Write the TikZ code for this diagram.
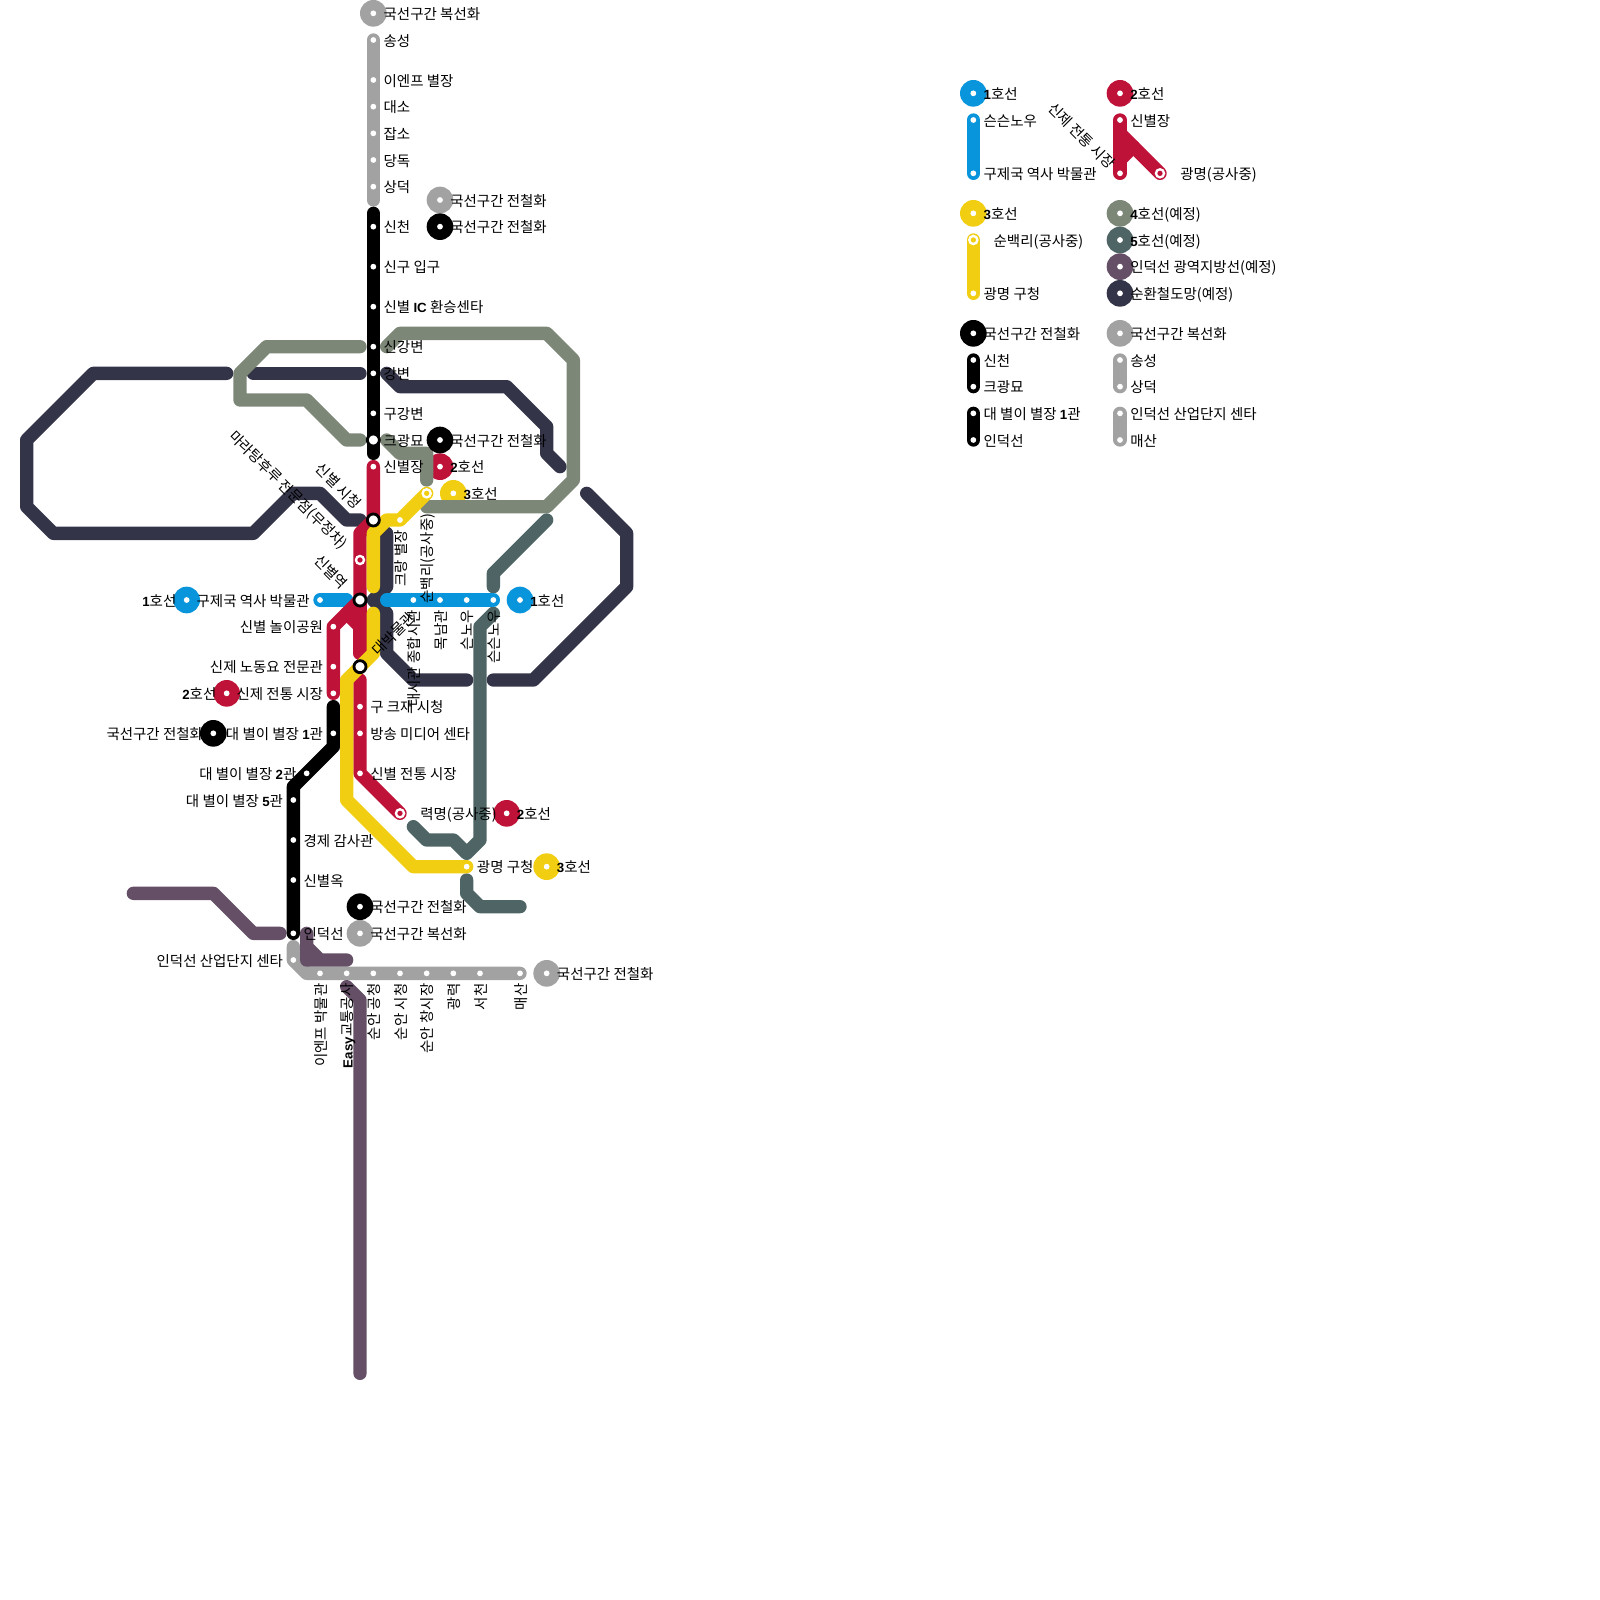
\documentclass[tikz,border=0pt]{standalone}
\usepackage{fontspec}
\usepackage{xcolor}
\setmainfont{Noto Sans CJK KR}
\newfontfamily\numfont[Scale=0.92]{Liberation Sans}
\newcommand{\bnum}[1]{{\numfont\bfseries #1}}
\definecolor{metroblue}{HTML}{0995DB}
\definecolor{metrored}{HTML}{BE1238}
\definecolor{metroyellow}{HTML}{F1CE12}
\definecolor{metrosage}{HTML}{7D8778}
\definecolor{metroteal}{HTML}{4F6565}
\definecolor{metropurple}{HTML}{644F66}
\definecolor{metrodark}{HTML}{343449}
\definecolor{metrogray}{HTML}{A2A2A2}
\pgfdeclarelayer{bubbles}
\pgfdeclarelayer{lines}
\pgfsetlayers{bubbles,lines,main}

\begin{document}
\begin{tikzpicture}[
  x=0.3cm,
  y=-0.3cm,
  metro/.style={line width=8.536pt, line cap=round, line join=round, draw=#1},
  stop/.style={circle, fill=white, inner sep=0pt, minimum size=3.7pt},
  xfer/.style={circle, draw=black, line width=1.8pt, fill=white, inner sep=0pt, minimum size=7.7pt},
  works/.style={circle, fill=white, inner sep=0pt, minimum size=6.8pt,
    path picture={\fill[#1] (path picture bounding box.center) circle (1.7pt);}},
  bubble/.style={circle, fill=#1, inner sep=0pt, minimum size=17.07pt,
    path picture={\fill[white] (path picture bounding box.center) circle (1.85pt);}},
  lbl/.style={font=\fontsize{9.27}{11}\selectfont, inner sep=0pt, text height=8.9pt, text depth=1.2pt},
  toright/.style={lbl, anchor=west, xshift=6.4pt},
  farright/.style={lbl, anchor=west, xshift=12.8pt},
  toleft/.style={lbl, anchor=east, xshift=-6.4pt},
  upright/.style={lbl, rotate=90, anchor=east, xshift=-6.4pt},
  farupright/.style={lbl, rotate=90, anchor=east, xshift=-12.8pt},
  slantdown/.style={lbl, rotate=-45, anchor=east, xshift=-#1},
  slantup/.style={lbl, rotate=45, anchor=west, xshift=12.8pt}
]
  \useasboundingbox (0,0) rectangle (120,120);

  \node[stop] (songseong) at (28,3) {}; \node[toright] (songseongT) at (songseong) {송성};
  \node[stop] (enpbyeol) at (28,6) {}; \node[toright] (enpbyeolT) at (enpbyeol) {이엔프 별장};
  \node[stop] (daeso) at (28,8) {}; \node[toright] (daesoT) at (daeso) {대소};
  \node[stop] (japso) at (28,10) {}; \node[toright] (japsoT) at (japso) {잡소};
  \node[stop] (dangdok) at (28,12) {}; \node[toright] (dangdokT) at (dangdok) {당독};
  \node[stop] (sangdeok) at (28,14) {}; \node[toright] (sangdeokT) at (sangdeok) {상덕};
  \node[stop] (sincheon) at (28,17) {}; \node[toright] (sincheonT) at (sincheon) {신천};
  \node[stop] (singu) at (28,20) {}; \node[toright] (singuT) at (singu) {신구 입구};
  \node[stop] (sinbyeolic) at (28,23) {}; \node[toright] (sinbyeolicT) at (sinbyeolic) {신별 \bnum{IC} 환승센타};
  \node[stop] (singang) at (28,26) {}; \node[toright] (singangT) at (singang) {신강변};
  \node[stop] (gangbyeon) at (28,28) {}; \node[toright] (gangbyeonT) at (gangbyeon) {강변};
  \node[stop] (gugang) at (28,31) {}; \node[toright] (gugangT) at (gugang) {구강변};
  \node[xfer] (keugwang) at (28,33) {}; \node[toright] (keugwangT) at (keugwang) {크광묘};
  \node[stop] (sinbyeoljang) at (28,35) {}; \node[toright] (sinbyeoljangT) at (sinbyeoljang) {신별장};

  \node[xfer] (cityhall) at (28,39) {}; \node[slantdown=12.8pt] (cityhallT) at (cityhall) {신별 시청};
  \node[stop] (keurang) at (30,39) {}; \node[upright] (keurangT) at (keurang) {크랑 별장};
  \node[works=metroyellow] (sunbaek) at (32,37) {}; \node[farupright] (sunbaekT) at (sunbaek) {순백리(공사중)};
  \node[works=metrored] (malatang) at (27,42) {}; \node[slantdown=12.8pt] (malatangT) at (malatang) {마라탕후루 전문점(무정차)};
  \node[xfer] (sinbyeolyeok) at (27,45) {}; \node[slantdown=12.8pt] (sinbyeolyeokT) at (sinbyeolyeok) {신별역};
  \node[stop] (gujeguk) at (24,45) {}; \node[toleft] (gujegukT) at (gujeguk) {구제국 역사 박물관};
  \node[stop] (sigwan) at (31,45) {}; \node[upright] (sigwanT) at (sigwan) {대시관 종합시관};
  \node[stop] (moknam) at (33,45) {}; \node[upright] (moknamT) at (moknam) {목남관};
  \node[stop] (seunnou) at (35,45) {}; \node[upright] (seunnouT) at (seunnou) {슨노우};
  \node[stop] (seunseun) at (37,45) {}; \node[upright] (seunseunT) at (seunseun) {슨슨노우};
  \node[stop] (nori) at (25,47) {}; \node[toleft] (noriT) at (nori) {신별 놀이공원};
  \node[stop] (nodong) at (25,50) {}; \node[toleft] (nodongT) at (nodong) {신제 노동요 전문관};
  \node[stop] (jeontong) at (25,52) {}; \node[toleft] (jeontongT) at (jeontong) {신제 전통 시장};
  \node[xfer] (daebak) at (27,50) {}; \node[slantup] (daebakT) at (daebak) {대박물관};
  \node[stop] (keujae) at (27,53) {}; \node[toright] (keujaeT) at (keujae) {구 크재 시청};
  \node[stop] (bangsong) at (27,55) {}; \node[toright] (bangsongT) at (bangsong) {방송 미디어 센타};
  \node[stop] (sinjeon) at (27,58) {}; \node[toright] (sinjeonT) at (sinjeon) {신별 전통 시장};
  \node[works=metrored] (ryeokmyeong) at (30,61) {}; \node[farright] (ryeokmyeongT) at (ryeokmyeong) {력명(공사중)};
  \node[stop] (gwangmyeong) at (35,65) {}; \node[toright] (gwangmyeongT) at (gwangmyeong) {광명 구청};
  \node[stop] (byeol) at (25,55) {}; \node[toleft] (byeolT) at (byeol) {대 별이 별장 \bnum{1}관};
  \node[stop] (byeolb) at (23,58) {}; \node[toleft] (byeolbT) at (byeolb) {대 별이 별장 \bnum{2}관};
  \node[stop] (byeolc) at (22,60) {}; \node[toleft] (byeolcT) at (byeolc) {대 별이 별장 \bnum{5}관};
  \node[stop] (gamsa) at (22,63) {}; \node[toright] (gamsaT) at (gamsa) {경제 감사관};
  \node[stop] (sinbyeolok) at (22,66) {}; \node[toright] (sinbyeolokT) at (sinbyeolok) {신별옥};
  \node[stop] (indeok) at (22,70) {}; \node[toright] (indeokT) at (indeok) {인덕선};
  \node[stop] (sanup) at (22,72) {}; \node[toleft] (sanupT) at (sanup) {인덕선 산업단지 센타};
  \node[stop] (enpmuseum) at (24,73) {}; \node[upright] (enpmuseumT) at (enpmuseum) {이엔프 박물관};
  \node[stop] (easy) at (26,73) {}; \node[upright] (easyT) at (easy) {\bnum{Easy}교통공사};
  \node[stop] (sunangong) at (28,73) {}; \node[upright] (sunangongT) at (sunangong) {순안 공청};
  \node[stop] (sunansi) at (30,73) {}; \node[upright] (sunansiT) at (sunansi) {순안 시청};
  \node[stop] (sunanchang) at (32,73) {}; \node[upright] (sunanchangT) at (sunanchang) {순안 창시장};
  \node[stop] (gwangryeok) at (34,73) {}; \node[upright] (gwangryeokT) at (gwangryeok) {광력};
  \node[stop] (seocheon) at (36,73) {}; \node[upright] (seocheonT) at (seocheon) {서천};
  \node[stop] (maesan) at (39,73) {}; \node[upright] (maesanT) at (maesan) {매산};

  \begin{pgfonlayer}{bubbles}
    \node[bubble=metrogray] (busgray) at (28,1) {};
    \node[bubble=metrogray] (busgrayb) at (33,15) {};
    \node[bubble=black] (busblack) at (33,17) {};
    \node[bubble=metrored] (busred) at (33,35) {};
    \node[bubble=metroyellow] (busyellow) at (34,37) {};
    \node[bubble=metroblue] (busblue) at (14,45) {};
    \node[bubble=metroblue] (busblueb) at (39,45) {};
    \node[bubble=metrored] (busredb) at (17,52) {};
    \node[bubble=black] (busblackb) at (16,55) {};
    \node[bubble=metrored] (busredc) at (38,61) {};
    \node[bubble=metroyellow] (busyellowb) at (41,65) {};
    \node[bubble=black] (busblackc) at (27,68) {};
    \node[bubble=metrogray] (busgrayc) at (27,70) {};
    \node[bubble=metrogray] (busgrayd) at (41,73) {};
  \end{pgfonlayer}
  \node[bubble=black] (busblackd) at (33,33) {};
  \node[toright] (busgrayT) at (busgray) {국선구간 복선화};
  \node[toright] (busgraybT) at (busgrayb) {국선구간 전철화};
  \node[toright] (busblackT) at (busblack) {국선구간 전철화};
  \node[toright] (busblackdT) at (busblackd) {국선구간 전철화};
  \node[toright] (busredT) at (busred) {\bnum{2}호선};
  \node[toright] (busyellowT) at (busyellow) {\bnum{3}호선};
  \node[toleft] (busblueT) at (busblue) {\bnum{1}호선};
  \node[toright] (busbluebT) at (busblueb) {\bnum{1}호선};
  \node[toleft] (busredbT) at (busredb) {\bnum{2}호선};
  \node[toleft] (busblackbT) at (busblackb) {국선구간 전철화};
  \node[toright] (busredcT) at (busredc) {\bnum{2}호선};
  \node[toright] (busyellowbT) at (busyellowb) {\bnum{3}호선};
  \node[toright] (busblackcT) at (busblackc) {국선구간 전철화};
  \node[toright] (busgraycT) at (busgrayc) {국선구간 복선화};
  \node[toright] (busgraydT) at (busgrayd) {국선구간 전철화};

  \node[stop] (keyblueA) at (73,9) {}; \node[toright] (keyblueAT) at (keyblueA) {슨슨노우};
  \node[stop] (keyblueB) at (73,13) {}; \node[toright] (keyblueBT) at (keyblueB) {구제국 역사 박물관};
  \node[stop] (keyredA) at (84,9) {}; \node[toright] (keyredAT) at (keyredA) {신별장};
  \node[stop] (keyredB) at (84,13) {}; \node[slantdown=6.4pt] (keyredBT) at (keyredB) {신제 전통 시장};
  \node[works=metrored] (keyredC) at (87,13) {}; \node[farright] (keyredCT) at (keyredC) {광명(공사중)};
  \node[works=metroyellow] (keyyellowA) at (73,18) {}; \node[farright] (keyyellowAT) at (keyyellowA) {순백리(공사중)};
  \node[stop] (keyyellowB) at (73,22) {}; \node[toright] (keyyellowBT) at (keyyellowB) {광명 구청};
  \node[stop] (keyblackA) at (73,27) {}; \node[toright] (keyblackAT) at (keyblackA) {신천};
  \node[stop] (keyblackB) at (73,29) {}; \node[toright] (keyblackBT) at (keyblackB) {크광묘};
  \node[stop] (keyblackC) at (73,31) {}; \node[toright] (keyblackCT) at (keyblackC) {대 별이 별장 \bnum{1}관};
  \node[stop] (keyblackD) at (73,33) {}; \node[toright] (keyblackDT) at (keyblackD) {인덕선};
  \node[stop] (keygrayA) at (84,27) {}; \node[toright] (keygrayAT) at (keygrayA) {송성};
  \node[stop] (keygrayB) at (84,29) {}; \node[toright] (keygrayBT) at (keygrayB) {상덕};
  \node[stop] (keygrayC) at (84,31) {}; \node[toright] (keygrayCT) at (keygrayC) {인덕선 산업단지 센타};
  \node[stop] (keygrayD) at (84,33) {}; \node[toright] (keygrayDT) at (keygrayD) {매산};

  \node[bubble=metroblue] (keybusA) at (73,7) {}; \node[toright] (keybusAT) at (keybusA) {\bnum{1}호선};
  \node[bubble=metrored] (keybusB) at (84,7) {}; \node[toright] (keybusBT) at (keybusB) {\bnum{2}호선};
  \node[bubble=metroyellow] (keybusC) at (73,16) {}; \node[toright] (keybusCT) at (keybusC) {\bnum{3}호선};
  \node[bubble=metrosage] (keybusD) at (84,16) {}; \node[toright] (keybusDT) at (keybusD) {\bnum{4}호선(예정)};
  \node[bubble=metroteal] (keybusE) at (84,18) {}; \node[toright] (keybusET) at (keybusE) {\bnum{5}호선(예정)};
  \node[bubble=metropurple] (keybusF) at (84,20) {}; \node[toright] (keybusFT) at (keybusF) {인덕선 광역지방선(예정)};
  \node[bubble=metrodark] (keybusG) at (84,22) {}; \node[toright] (keybusGT) at (keybusG) {순환철도망(예정)};
  \node[bubble=black] (keybusH) at (73,25) {}; \node[toright] (keybusHT) at (keybusH) {국선구간 전철화};
  \node[bubble=metrogray] (keybusI) at (84,25) {}; \node[toright] (keybusIT) at (keybusI) {국선구간 복선화};

  \begin{pgfonlayer}{lines}
    \draw[metro=metrodark] (17,28) -- (7,28) -- (2,33) -- (2,38) -- (4,40) -- (19,40) -- (22,37) -- (24,37) -- (26,39) -- (27,39);
    \draw[metro=metrodark] (19,28) -- (27,28);
    \draw[metro=metrodark] (29,28) -- (30,29) -- (38,29) -- (41,32) -- (41,34) -- (42,35);
    \draw[metro=metrodark] (29,40) -- (29,44) -- (28,45) -- (29,46) -- (29,49) -- (31,51) -- (35,51);
    \draw[metro=metrodark] (37,51) -- (40,51) -- (47,44) -- (47,40) -- (44,37);

    \draw[metro=metrosage] (27,26) -- (20,26) -- (18,28) -- (18,30) -- (23,30) -- (26,33) -- (27,33);
    \draw[metro=metrosage] (29,26) -- (30,25) -- (41,25) -- (43,27) -- (43,36) -- (41,38) -- (32,38);
    \draw[metro=metrosage] (29,33) -- (30,34) -- (32,34) -- (32,36);

    \draw[metro=metroteal] (41,39) -- (37,43) -- (37,44);
    \draw[metro=metroteal] (37,46) -- (36,47) -- (36,63) -- (35,64) -- (34,63) -- (32,63) -- (31,62);
    \draw[metro=metroteal] (35,66) -- (35,67) -- (36,68) -- (39,68);

    \draw[metro=metrogray] (songseong.center) -- (28,15);
    \draw[metro=metrogray] (22,71) -- (sanup.center) -- (23,73) -- (maesan.center);

    \draw[metro=metropurple] (10,67) -- (16,67) -- (19,70) -- (21,70);
    \draw[metro=metropurple] (23,70) -- (23,72) -- (26,72) -- (24,72) -- (23,71);
    \draw[metro=metropurple] (26,74) -- (27,75) -- (27,103);

    \draw[metro=black] (28,16) -- (sincheon.center) -- (28,34);
    \draw[metro=black] (25,53) -- (byeol.center) -- (25,56) -- (22,59) -- (indeok.center);

    \draw[metro=metroblue] (gujeguk.center) -- (26,45);
    \draw[metro=metroblue] (29,45) -- (seunseun.center);

    \draw[metro=metrored] (sinbyeoljang.center) -- (28,39) -- (27,40) -- (sinbyeolyeok.center) -- (nori.center) -- (jeontong.center);
    \draw[metro=metrored] (sinbyeolyeok.center) -- (27,49);
    \draw[metro=metrored] (26,46) -- (27,47) -- (27,49);
    \draw[metro=metrored] (27,51) -- (sinjeon.center) -- (ryeokmyeong.center);

    \draw[metro=metroyellow] (sunbaek.center) -- (keurang.center) -- (29,39) -- (28,40) -- (28,44);
    \draw[metro=metroyellow] (28,46) -- (28,49) -- (26,51) -- (26,60) -- (31,65) -- (gwangmyeong.center);

    \draw[metro=metroblue] (keyblueA.center) -- (keyblueB.center);
    \draw[metro=metrored] (keyredA.center) -- (keyredB.center);
    \draw[metro=metrored] (84,10) -- (keyredC.center);
    \draw[metro=metrored] (84,12) -- (85,11);
    \draw[metro=metroyellow] (keyyellowA.center) -- (keyyellowB.center);
    \draw[metro=black] (keyblackA.center) -- (keyblackB.center);
    \draw[metro=black] (keyblackC.center) -- (keyblackD.center);
    \draw[metro=metrogray] (keygrayA.center) -- (keygrayB.center);
    \draw[metro=metrogray] (keygrayC.center) -- (keygrayD.center);
  \end{pgfonlayer}
\end{tikzpicture}
\end{document}
